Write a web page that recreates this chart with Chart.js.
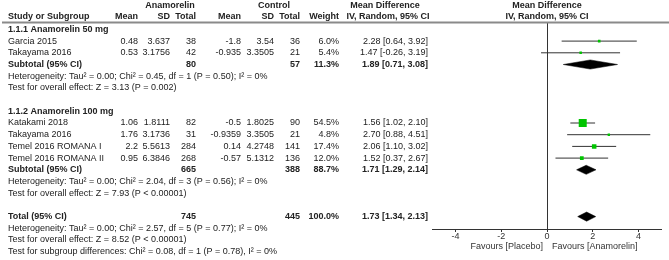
<!DOCTYPE html>
<html>
<head>
<meta charset="utf-8">
<script src="https://cdn.jsdelivr.net/npm/chart.js@4.4.1/dist/chart.umd.min.js"></script>
<style>
  html, body { margin: 0; padding: 0; background: #fff; }
  canvas { display: block; }
</style>
</head>
<body>
<canvas id="forestChart" width="669" height="260"></canvas>
<script>
// study level data
const studyNames = ['Garcia 2015', 'Takayama 2016', 'Katakami 2018', 'Takayama 2016', 'Temel 2016 ROMANA I', 'Temel 2016 ROMANA II'];
const studyGroup = [0, 0, 1, 1, 1, 1];
const expMean = [0.48, 0.53, 1.06, 1.76, 2.2, 0.95];
const expSD = [3.637, 3.1756, 1.8111, 3.1736, 5.5613, 6.3846];
const expTotal = [38, 42, 82, 31, 284, 268];
const ctrlMean = [-1.8, -0.935, -0.5, -0.9359, 0.14, -0.57];
const ctrlSD = [3.54, 3.3505, 1.8025, 3.3505, 4.2748, 5.1312];
const ctrlTotal = [36, 21, 90, 21, 141, 136];
const studyWeight = [6.0, 5.4, 54.5, 4.8, 17.4, 12.0];
const studyMD = [2.28, 1.47, 1.56, 2.70, 2.06, 1.52];
const studyLo = [0.64, -0.26, 1.02, 0.88, 1.10, 0.37];
const studyHi = [3.92, 3.19, 2.10, 4.51, 3.02, 2.67];

// subgroup data
const groupLabels = ['1.1.1 Anamorelin 50 mg', '1.1.2 Anamorelin 100 mg'];
const groupExpTotal = [80, 665];
const groupCtrlTotal = [57, 388];
const groupWeight = [11.3, 88.7];
const groupMD = [1.89, 1.71];
const groupLo = [0.71, 1.29];
const groupHi = [3.08, 2.14];
const groupHet = [
  'Heterogeneity: Tau\u00b2 = 0.00; Chi\u00b2 = 0.45, df = 1 (P = 0.50); I\u00b2 = 0%',
  'Heterogeneity: Tau\u00b2 = 0.00; Chi\u00b2 = 2.04, df = 3 (P = 0.56); I\u00b2 = 0%'
];
const groupZ = [
  'Test for overall effect: Z = 3.13 (P = 0.002)',
  'Test for overall effect: Z = 7.93 (P < 0.00001)'
];

// overall
const totalExp = 745;
const totalCtrl = 445;
const totalWeight = 100.0;
const totalMD = 1.73;
const totalLo = 1.34;
const totalHi = 2.13;
const totalNotes = [
  'Heterogeneity: Tau\u00b2 = 0.00; Chi\u00b2 = 2.57, df = 5 (P = 0.77); I\u00b2 = 0%',
  'Test for overall effect: Z = 8.52 (P < 0.00001)',
  'Test for subgroup differences: Chi\u00b2 = 0.08, df = 1 (P = 0.78), I\u00b2 = 0%'
];

const xTicks = [-4, -2, 0, 2, 4];

const FONT = '"Liberation Sans", Arial, sans-serif';
const TEXT = '#222';
// right edges of the table columns
const COL = { name: 8, eMean: 138, eSD: 170, eTot: 196, cMean: 241, cSD: 274, cTot: 300, wt: 339, ci: 428 };

// work out which row each line of the table sits on
const rows = [];
let r = 0;
const studyRow = [];
const groupRow = [];
groupLabels.forEach((g, gi) => {
  rows.push({ kind: 'head', g: gi, row: r++ });
  studyNames.forEach((s, i) => {
    if (studyGroup[i] === gi) { studyRow[i] = r; rows.push({ kind: 'study', i: i, row: r++ }); }
  });
  groupRow[gi] = r;
  rows.push({ kind: 'sub', g: gi, row: r++ });
  rows.push({ kind: 'note', text: groupHet[gi], row: r++ });
  rows.push({ kind: 'note', text: groupZ[gi], row: r++ });
  r++; // blank line
});
const totalRow = r;
rows.push({ kind: 'total', row: r++ });
totalNotes.forEach(t => rows.push({ kind: 'note', text: t, row: r++ }));

const fmtCI = (m, lo, hi) => m.toFixed(2) + ' [' + lo.toFixed(2) + ', ' + hi.toFixed(2) + ']';

// datasets: CI whiskers, weighted squares, diamonds
const datasets = [];
studyMD.forEach((m, i) => {
  datasets.push({
    type: 'line',
    data: [{ x: studyLo[i], y: studyRow[i] }, { x: studyHi[i], y: studyRow[i] }],
    borderColor: '#333', borderWidth: 1, pointRadius: 0, fill: false, order: 3
  });
});
datasets.push({
  type: 'scatter',
  data: studyMD.map((m, i) => ({ x: m, y: studyRow[i] })),
  pointStyle: 'rect',
  pointRadius: studyWeight.map(w => 8 * Math.sqrt(w / 54.5) / Math.SQRT2),
  backgroundColor: '#00c400', borderWidth: 0, order: 1
});
const dH = 0.39;
const diamonds = groupMD.map((m, gi) => [groupLo[gi], m, groupHi[gi], groupRow[gi]]);
diamonds.push([totalLo, totalMD, totalHi, totalRow]);
diamonds.forEach(d => {
  const [lo, m, hi, row] = d;
  const idx = datasets.length;
  datasets.push({
    type: 'line',
    data: [{ x: lo, y: row }, { x: m, y: row - dH }, { x: hi, y: row }],
    borderColor: '#000', borderWidth: 0.5, backgroundColor: '#000',
    pointRadius: 0, tension: 0, fill: { target: idx + 1 }, order: 2
  });
  datasets.push({
    type: 'line',
    data: [{ x: lo, y: row }, { x: m, y: row + dH }, { x: hi, y: row }],
    borderColor: '#000', borderWidth: 0.5, pointRadius: 0, tension: 0, fill: false, order: 2
  });
});

const tablePlugin = {
  id: 'tablePlugin',
  afterDraw(chart) {
    const ctx = chart.ctx;
    const y = chart.scales.y;
    const x = chart.scales.x;
    const txt = (s, px, py, align, bold) => {
      ctx.font = (bold ? 'bold ' : '') + '9px ' + FONT;
      ctx.textAlign = align;
      ctx.fillText(String(s), px, py);
    };
    ctx.save();
    ctx.fillStyle = TEXT;
    ctx.textBaseline = 'middle';

    // header
    const h1 = 6, h2 = 16.5;
    const zx = x.getPixelForValue(0);
    txt('Anamorelin', 170, h1, 'center', true);
    txt('Control', 274, h1, 'center', true);
    txt('Mean Difference', 385, h1, 'center', true);
    txt('Mean Difference', zx, h1, 'center', true);
    txt('Study or Subgroup', COL.name, h2, 'left', true);
    txt('Mean', COL.eMean, h2, 'right', true);
    txt('SD', COL.eSD, h2, 'right', true);
    txt('Total', COL.eTot, h2, 'right', true);
    txt('Mean', COL.cMean, h2, 'right', true);
    txt('SD', COL.cSD, h2, 'right', true);
    txt('Total', COL.cTot, h2, 'right', true);
    txt('Weight', COL.wt, h2, 'right', true);
    txt('IV, Random, 95% CI', 388, h2, 'center', true);
    txt('IV, Random, 95% CI', zx, h2, 'center', true);

    rows.forEach(rw => {
      const py = y.getPixelForValue(rw.row);
      if (rw.kind === 'head') {
        txt(groupLabels[rw.g], COL.name, py, 'left', true);
      } else if (rw.kind === 'study') {
        const i = rw.i;
        txt(studyNames[i], COL.name, py, 'left', false);
        txt(expMean[i], COL.eMean, py, 'right', false);
        txt(expSD[i], COL.eSD, py, 'right', false);
        txt(expTotal[i], COL.eTot, py, 'right', false);
        txt(ctrlMean[i], COL.cMean, py, 'right', false);
        txt(ctrlSD[i], COL.cSD, py, 'right', false);
        txt(ctrlTotal[i], COL.cTot, py, 'right', false);
        txt(studyWeight[i].toFixed(1) + '%', COL.wt, py, 'right', false);
        txt(fmtCI(studyMD[i], studyLo[i], studyHi[i]), COL.ci, py, 'right', false);
      } else if (rw.kind === 'sub') {
        const g = rw.g;
        txt('Subtotal (95% CI)', COL.name, py, 'left', true);
        txt(groupExpTotal[g], COL.eTot, py, 'right', true);
        txt(groupCtrlTotal[g], COL.cTot, py, 'right', true);
        txt(groupWeight[g].toFixed(1) + '%', COL.wt, py, 'right', true);
        txt(fmtCI(groupMD[g], groupLo[g], groupHi[g]), COL.ci, py, 'right', true);
      } else if (rw.kind === 'total') {
        txt('Total (95% CI)', COL.name, py, 'left', true);
        txt(totalExp, COL.eTot, py, 'right', true);
        txt(totalCtrl, COL.cTot, py, 'right', true);
        txt(totalWeight.toFixed(1) + '%', COL.wt, py, 'right', true);
        txt(fmtCI(totalMD, totalLo, totalHi), COL.ci, py, 'right', true);
      } else {
        txt(rw.text, COL.name, py, 'left', false);
      }
    });

    // header rule
    ctx.strokeStyle = '#8a8a8a';
    ctx.lineWidth = 2;
    ctx.beginPath();
    ctx.moveTo(2, 22.5);
    ctx.lineTo(669, 22.5);
    ctx.stroke();

    // favours labels
    ctx.fillStyle = '#333';
    txt('Favours [Placebo]', zx - 4, 247, 'right', false);
    txt('Favours [Anamorelin]', zx + 5, 247, 'left', false);
    ctx.restore();
  }
};

new Chart(document.getElementById('forestChart'), {
  type: 'scatter',
  data: { datasets: datasets },
  options: {
    responsive: false,
    animation: false,
    events: [],
    layout: { padding: { left: 432.5, right: 7.5, top: 22.5, bottom: 0 } },
    plugins: { legend: { display: false }, tooltip: { enabled: false } },
    scales: {
      x: {
        type: 'linear', min: -5, max: 5,
        afterBuildTicks: s => { s.ticks = xTicks.map(v => ({ value: v })); },
        afterFit: s => { s.height = 31; },
        grid: {
          color: c => (c.tick && c.tick.value === 0 ? '#333' : 'rgba(0,0,0,0)'),
          tickColor: '#333', tickLength: 3, lineWidth: 1
        },
        border: { display: true, color: '#333', width: 1 },
        ticks: { font: { family: FONT, size: 9 }, color: '#333', padding: -1 }
      },
      y: { type: 'linear', reverse: true, min: -0.59, max: 17.06, display: false }
    }
  },
  plugins: [tablePlugin]
});
</script>
</body>
</html>
